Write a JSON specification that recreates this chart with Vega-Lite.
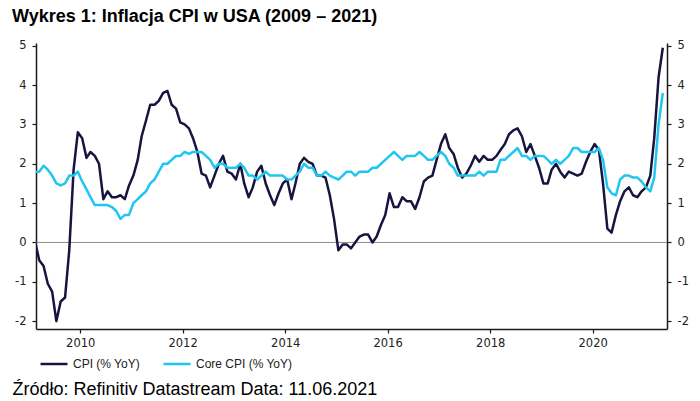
{
  "$schema": "https://vega.github.io/schema/vega-lite/v6.json",
  "width": 631,
  "height": 286,
  "autosize": {"type": "none"},
  "padding": {"left": 36, "top": 43, "right": 33, "bottom": 72},
  "background": "#ffffff",
  "title": {
    "text": "Wykres 1: Inflacja CPI w USA (2009 – 2021)",
    "anchor": "start",
    "frame": "group",
    "font": "Liberation Sans",
    "fontSize": 18,
    "fontWeight": "bold",
    "color": "#000000",
    "dx": -24,
    "offset": 14
  },
  "datasets": {
    "inflation": [
      {"m": "2009-02-15", "cpi": 0.0, "core": 1.8},
      {"m": "2009-03-15", "cpi": -0.45, "core": 1.8},
      {"m": "2009-04-15", "cpi": -0.6, "core": 1.95},
      {"m": "2009-05-15", "cpi": -1.05, "core": 1.85},
      {"m": "2009-06-15", "cpi": -1.25, "core": 1.7},
      {"m": "2009-07-15", "cpi": -2.0, "core": 1.5},
      {"m": "2009-08-15", "cpi": -1.5, "core": 1.45},
      {"m": "2009-09-15", "cpi": -1.4, "core": 1.5},
      {"m": "2009-10-15", "cpi": -0.2, "core": 1.7},
      {"m": "2009-11-15", "cpi": 1.85, "core": 1.7},
      {"m": "2009-12-15", "cpi": 2.8, "core": 1.8},
      {"m": "2010-01-15", "cpi": 2.65, "core": 1.55},
      {"m": "2010-02-15", "cpi": 2.15, "core": 1.35},
      {"m": "2010-03-15", "cpi": 2.3, "core": 1.15},
      {"m": "2010-04-15", "cpi": 2.2, "core": 0.95},
      {"m": "2010-05-15", "cpi": 2.0, "core": 0.95},
      {"m": "2010-06-15", "cpi": 1.1, "core": 0.95},
      {"m": "2010-07-15", "cpi": 1.3, "core": 0.95},
      {"m": "2010-08-15", "cpi": 1.15, "core": 0.9},
      {"m": "2010-09-15", "cpi": 1.15, "core": 0.8},
      {"m": "2010-10-15", "cpi": 1.2, "core": 0.6},
      {"m": "2010-11-15", "cpi": 1.1, "core": 0.7},
      {"m": "2010-12-15", "cpi": 1.45, "core": 0.7},
      {"m": "2011-01-15", "cpi": 1.7, "core": 1.0},
      {"m": "2011-02-15", "cpi": 2.1, "core": 1.1},
      {"m": "2011-03-15", "cpi": 2.7, "core": 1.2},
      {"m": "2011-04-15", "cpi": 3.1, "core": 1.3},
      {"m": "2011-05-15", "cpi": 3.5, "core": 1.5},
      {"m": "2011-06-15", "cpi": 3.5, "core": 1.6},
      {"m": "2011-07-15", "cpi": 3.6, "core": 1.8},
      {"m": "2011-08-15", "cpi": 3.8, "core": 2.0},
      {"m": "2011-09-15", "cpi": 3.85, "core": 2.0},
      {"m": "2011-10-15", "cpi": 3.5, "core": 2.1},
      {"m": "2011-11-15", "cpi": 3.4, "core": 2.2},
      {"m": "2011-12-15", "cpi": 3.05, "core": 2.2},
      {"m": "2012-01-15", "cpi": 3.0, "core": 2.3},
      {"m": "2012-02-15", "cpi": 2.9, "core": 2.25},
      {"m": "2012-03-15", "cpi": 2.65, "core": 2.3},
      {"m": "2012-04-15", "cpi": 2.3, "core": 2.3},
      {"m": "2012-05-15", "cpi": 1.75, "core": 2.3},
      {"m": "2012-06-15", "cpi": 1.7, "core": 2.2},
      {"m": "2012-07-15", "cpi": 1.4, "core": 2.1},
      {"m": "2012-08-15", "cpi": 1.7, "core": 1.9},
      {"m": "2012-09-15", "cpi": 2.0, "core": 2.0},
      {"m": "2012-10-15", "cpi": 2.2, "core": 2.0},
      {"m": "2012-11-15", "cpi": 1.8, "core": 1.9},
      {"m": "2012-12-15", "cpi": 1.75, "core": 1.9},
      {"m": "2013-01-15", "cpi": 1.6, "core": 1.9},
      {"m": "2013-02-15", "cpi": 2.0, "core": 2.0},
      {"m": "2013-03-15", "cpi": 1.5, "core": 1.9},
      {"m": "2013-04-15", "cpi": 1.15, "core": 1.7},
      {"m": "2013-05-15", "cpi": 1.4, "core": 1.7},
      {"m": "2013-06-15", "cpi": 1.8, "core": 1.6},
      {"m": "2013-07-15", "cpi": 1.95, "core": 1.7},
      {"m": "2013-08-15", "cpi": 1.5, "core": 1.8},
      {"m": "2013-09-15", "cpi": 1.2, "core": 1.7},
      {"m": "2013-10-15", "cpi": 0.95, "core": 1.7},
      {"m": "2013-11-15", "cpi": 1.25, "core": 1.7},
      {"m": "2013-12-15", "cpi": 1.5, "core": 1.7},
      {"m": "2014-01-15", "cpi": 1.6, "core": 1.6},
      {"m": "2014-02-15", "cpi": 1.1, "core": 1.6},
      {"m": "2014-03-15", "cpi": 1.5, "core": 1.7},
      {"m": "2014-04-15", "cpi": 2.0, "core": 1.8},
      {"m": "2014-05-15", "cpi": 2.15, "core": 2.0},
      {"m": "2014-06-15", "cpi": 2.05, "core": 1.9},
      {"m": "2014-07-15", "cpi": 2.0, "core": 1.9},
      {"m": "2014-08-15", "cpi": 1.7, "core": 1.7},
      {"m": "2014-09-15", "cpi": 1.7, "core": 1.7},
      {"m": "2014-10-15", "cpi": 1.65, "core": 1.8},
      {"m": "2014-11-15", "cpi": 1.2, "core": 1.7},
      {"m": "2014-12-15", "cpi": 0.6, "core": 1.65},
      {"m": "2015-01-15", "cpi": -0.2, "core": 1.6},
      {"m": "2015-02-15", "cpi": -0.05, "core": 1.7},
      {"m": "2015-03-15", "cpi": -0.05, "core": 1.8},
      {"m": "2015-04-15", "cpi": -0.15, "core": 1.8},
      {"m": "2015-05-15", "cpi": 0.0, "core": 1.7},
      {"m": "2015-06-15", "cpi": 0.15, "core": 1.8},
      {"m": "2015-07-15", "cpi": 0.2, "core": 1.8},
      {"m": "2015-08-15", "cpi": 0.2, "core": 1.8},
      {"m": "2015-09-15", "cpi": 0.0, "core": 1.9},
      {"m": "2015-10-15", "cpi": 0.15, "core": 1.9},
      {"m": "2015-11-15", "cpi": 0.45, "core": 2.0},
      {"m": "2015-12-15", "cpi": 0.7, "core": 2.1},
      {"m": "2016-01-15", "cpi": 1.25, "core": 2.2},
      {"m": "2016-02-15", "cpi": 0.9, "core": 2.3},
      {"m": "2016-03-15", "cpi": 0.9, "core": 2.2},
      {"m": "2016-04-15", "cpi": 1.15, "core": 2.1},
      {"m": "2016-05-15", "cpi": 1.05, "core": 2.2},
      {"m": "2016-06-15", "cpi": 1.05, "core": 2.2},
      {"m": "2016-07-15", "cpi": 0.85, "core": 2.2},
      {"m": "2016-08-15", "cpi": 1.15, "core": 2.3},
      {"m": "2016-09-15", "cpi": 1.55, "core": 2.2},
      {"m": "2016-10-15", "cpi": 1.65, "core": 2.1},
      {"m": "2016-11-15", "cpi": 1.7, "core": 2.1},
      {"m": "2016-12-15", "cpi": 2.1, "core": 2.2},
      {"m": "2017-01-15", "cpi": 2.5, "core": 2.3},
      {"m": "2017-02-15", "cpi": 2.75, "core": 2.2},
      {"m": "2017-03-15", "cpi": 2.4, "core": 2.0},
      {"m": "2017-04-15", "cpi": 2.25, "core": 1.9},
      {"m": "2017-05-15", "cpi": 1.9, "core": 1.7},
      {"m": "2017-06-15", "cpi": 1.65, "core": 1.7},
      {"m": "2017-07-15", "cpi": 1.75, "core": 1.7},
      {"m": "2017-08-15", "cpi": 1.95, "core": 1.7},
      {"m": "2017-09-15", "cpi": 2.2, "core": 1.7},
      {"m": "2017-10-15", "cpi": 2.05, "core": 1.8},
      {"m": "2017-11-15", "cpi": 2.2, "core": 1.7},
      {"m": "2017-12-15", "cpi": 2.1, "core": 1.8},
      {"m": "2018-01-15", "cpi": 2.1, "core": 1.8},
      {"m": "2018-02-15", "cpi": 2.2, "core": 1.8},
      {"m": "2018-03-15", "cpi": 2.35, "core": 2.1},
      {"m": "2018-04-15", "cpi": 2.5, "core": 2.1},
      {"m": "2018-05-15", "cpi": 2.75, "core": 2.2},
      {"m": "2018-06-15", "cpi": 2.85, "core": 2.3},
      {"m": "2018-07-15", "cpi": 2.9, "core": 2.4},
      {"m": "2018-08-15", "cpi": 2.7, "core": 2.2},
      {"m": "2018-09-15", "cpi": 2.3, "core": 2.2},
      {"m": "2018-10-15", "cpi": 2.5, "core": 2.1},
      {"m": "2018-11-15", "cpi": 2.2, "core": 2.2},
      {"m": "2018-12-15", "cpi": 1.9, "core": 2.2},
      {"m": "2019-01-15", "cpi": 1.5, "core": 2.2},
      {"m": "2019-02-15", "cpi": 1.5, "core": 2.1},
      {"m": "2019-03-15", "cpi": 1.85, "core": 2.0},
      {"m": "2019-04-15", "cpi": 2.0, "core": 2.1},
      {"m": "2019-05-15", "cpi": 1.8, "core": 2.0},
      {"m": "2019-06-15", "cpi": 1.65, "core": 2.1},
      {"m": "2019-07-15", "cpi": 1.8, "core": 2.2},
      {"m": "2019-08-15", "cpi": 1.75, "core": 2.4},
      {"m": "2019-09-15", "cpi": 1.7, "core": 2.4},
      {"m": "2019-10-15", "cpi": 1.75, "core": 2.3},
      {"m": "2019-11-15", "cpi": 2.05, "core": 2.3},
      {"m": "2019-12-15", "cpi": 2.3, "core": 2.3},
      {"m": "2020-01-15", "cpi": 2.5, "core": 2.3},
      {"m": "2020-02-15", "cpi": 2.35, "core": 2.4},
      {"m": "2020-03-15", "cpi": 1.5, "core": 2.1},
      {"m": "2020-04-15", "cpi": 0.35, "core": 1.4},
      {"m": "2020-05-15", "cpi": 0.25, "core": 1.25},
      {"m": "2020-06-15", "cpi": 0.7, "core": 1.2},
      {"m": "2020-07-15", "cpi": 1.05, "core": 1.6},
      {"m": "2020-08-15", "cpi": 1.3, "core": 1.7},
      {"m": "2020-09-15", "cpi": 1.4, "core": 1.7},
      {"m": "2020-10-15", "cpi": 1.2, "core": 1.65},
      {"m": "2020-11-15", "cpi": 1.15, "core": 1.65},
      {"m": "2020-12-15", "cpi": 1.3, "core": 1.55},
      {"m": "2021-01-15", "cpi": 1.4, "core": 1.4},
      {"m": "2021-02-15", "cpi": 1.7, "core": 1.3},
      {"m": "2021-03-15", "cpi": 2.65, "core": 1.65},
      {"m": "2021-04-15", "cpi": 4.2, "core": 3.0},
      {"m": "2021-05-15", "cpi": 4.95, "core": 3.8}
    ]
  },
  "layer": [
    {
      "data": {"values": [{"z": 0}]},
      "mark": {"type": "rule", "color": "#8c8c8c", "strokeWidth": 1},
      "encoding": {
        "y": {
          "field": "z",
          "type": "quantitative",
          "scale": {"domain": [-2.2, 5.07], "nice": false, "zero": false},
          "axis": {
            "orient": "right",
            "values": [-2, -1, 0, 1, 2, 3, 4, 5],
            "labelExpr": "toString(datum.value)",
            "title": null,
            "labelAlign": "left",
            "labelPadding": 6
          }
        }
      }
    },
    {
      "data": {"name": "inflation"},
      "transform": [{"fold": ["cpi", "core"], "as": ["s", "v"]}],
      "mark": {"type": "line", "strokeWidth": 2.5, "clip": true, "strokeJoin": "round"},
      "encoding": {
        "x": {
          "field": "m",
          "type": "temporal",
          "scale": {"domain": [{"year": 2009, "month": 2, "date": 20}, {"year": 2021, "month": 6, "date": 14}]},
          "axis": {
            "values": [
              {"year": 2010, "month": 1, "date": 1},
              {"year": 2012, "month": 1, "date": 1},
              {"year": 2014, "month": 1, "date": 1},
              {"year": 2016, "month": 1, "date": 1},
              {"year": 2018, "month": 1, "date": 1},
              {"year": 2020, "month": 1, "date": 1}
            ],
            "format": "%Y",
            "labelPadding": 4,
            "title": "Źródło: Refinitiv Datastream Data: 11.06.2021",
            "titleAnchor": "start",
            "titleAlign": "left",
            "titleBaseline": "alphabetic",
            "titleX": -24,
            "titleY": 65,
            "titleFont": "Liberation Sans",
            "titleFontSize": 18,
            "titleFontWeight": "normal",
            "titleColor": "#000000"
          }
        },
        "y": {
          "field": "v",
          "type": "quantitative",
          "scale": {"domain": [-2.2, 5.07], "nice": false, "zero": false},
          "axis": {
            "orient": "left",
            "values": [-2, -1, 0, 1, 2, 3, 4, 5],
            "labelExpr": "toString(datum.value)",
            "labelPadding": 6,
            "title": null
          }
        },
        "color": {
          "field": "s",
          "type": "nominal",
          "scale": {"domain": ["cpi", "core"], "range": ["#17153f", "#1fc6f1"]},
          "legend": {
            "title": null,
            "orient": "none",
            "direction": "horizontal",
            "legendX": 3,
            "legendY": 306,
            "symbolType": "stroke",
            "symbolSize": 729,
            "symbolStrokeWidth": 2.5,
            "labelOffset": 4,
            "columnPadding": 18,
            "padding": 0,
            "labelExpr": "datum.label == 'cpi' ? 'CPI (% YoY)' : 'Core CPI (% YoY)'"
          }
        }
      }
    }
  ],
  "resolve": {"scale": {"y": "independent"}},
  "config": {
    "view": {"stroke": null},
    "legend": {
      "labelFont": "Liberation Sans",
      "labelFontSize": 12,
      "labelColor": "#222222",
      "labelLimit": 300
    },
    "axis": {
      "grid": false,
      "domainColor": "#1a1a1a",
      "domainWidth": 1.5,
      "tickColor": "#1a1a1a",
      "tickWidth": 1.2,
      "tickSize": 4,
      "labelFont": "DejaVu Sans",
      "labelFontSize": 11.5,
      "labelColor": "#222222",
      "labelPadding": 3
    }
  }
}
